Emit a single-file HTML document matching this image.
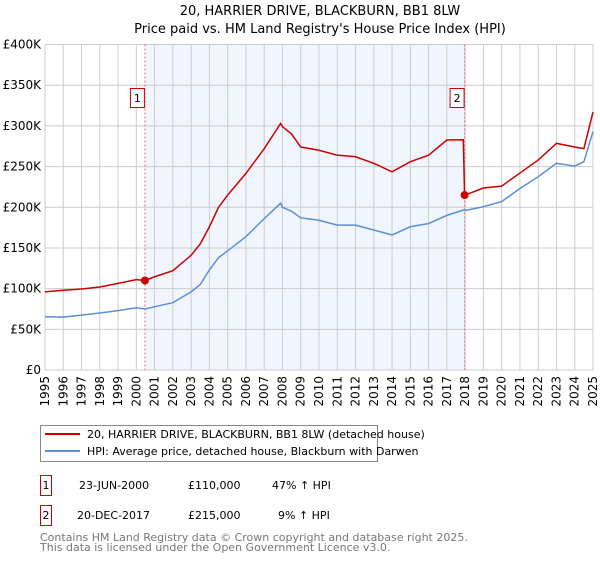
<!DOCTYPE html>
<html><head><meta charset="utf-8"><style>
body{margin:0;background:#fff;font-family:"DejaVu Sans","Liberation Sans",sans-serif;}
svg text{font-family:"DejaVu Sans","Liberation Sans",sans-serif;}
</style></head><body>
<svg id="c" width="600" height="560" xmlns="http://www.w3.org/2000/svg">
<text x="320" y="15" text-anchor="middle" font-size="13">20, HARRIER DRIVE, BLACKBURN, BB1 8LW</text>
<text x="320" y="33" text-anchor="middle" font-size="13">Price paid vs. HM Land Registry's House Price Index (HPI)</text>
<g id="plot"></g>
<g>
<rect x="40.5" y="425.5" width="337" height="36" fill="#fff" stroke="#888"/>
<line x1="45" y1="434" x2="80" y2="434" stroke="#cc0000" stroke-width="2"/>
<text x="87" y="438" font-size="11">20, HARRIER DRIVE, BLACKBURN, BB1 8LW (detached house)</text>
<line x1="45" y1="451" x2="80" y2="451" stroke="#5b8fd4" stroke-width="2"/>
<text x="87" y="455" font-size="11">HPI: Average price, detached house, Blackburn with Darwen</text>
</g>
<g font-size="11">
<rect x="40.5" y="475.5" width="11" height="20" fill="#fff" stroke="#cc0000"/>
<text x="46" y="489" text-anchor="middle">1</text>
<text x="79" y="489">23-JUN-2000</text>
<text x="188" y="489">£110,000</text>
<text x="272" y="489">47% ↑ HPI</text>
<rect x="40.5" y="505.5" width="11" height="20" fill="#fff" stroke="#cc0000"/>
<text x="46" y="519" text-anchor="middle">2</text>
<text x="77" y="519">20-DEC-2017</text>
<text x="188" y="519">£215,000</text>
<text x="278" y="519">9% ↑ HPI</text>
</g>
<text x="40" y="541" font-size="11" fill="#777">Contains HM Land Registry data © Crown copyright and database right 2025.</text>
<text x="40" y="551" font-size="11" fill="#777">This data is licensed under the Open Government Licence v3.0.</text>
</svg>
<script>
const hpiYears=[1995,1996,1997,1998,1999,2000,2000.5,2001,2002,2003,2003.5,2004,2004.5,2005,2006,2007,2007.9,2008,2008.5,2009,2010,2011,2012,2013,2014,2015,2016,2017,2017.97,2018,2019,2020,2021,2022,2023,2024,2024.5,2025];
const hpiValues=[65.5,65,67.5,70,73,76.5,75,77.8,82.7,96,105,123,138,146.5,163.8,186,205,200,195,187,184,178,178,172,166,176,180,190,197,196,200.6,207,223,237.5,254,250.6,256,293];
const priceYears=[1995,1996,1997,1998,1999,2000,2000.47,2001,2002,2003,2003.5,2004,2004.5,2005,2006,2007,2007.9,2008,2008.5,2009,2010,2011,2012,2013,2014,2015,2016,2017,2017.9,2017.97,2018,2019,2020,2021,2022,2023,2024,2024.5,2025];
const priceValues=[96,98,99.5,102,106.5,111,110,114.6,122,141,155,176,200,215,241.6,272,303,299,290,274,270,264,262,254,243.6,256,264,282.6,283,215,215,223.6,226,242,258,278.5,274,272,317];
const yTicks=[0,50,100,150,200,250,300,350,400];
const yTickLabels=["£0","£50K","£100K","£150K","£200K","£250K","£300K","£350K","£400K"];
const xTicks=[1995,1996,1997,1998,1999,2000,2001,2002,2003,2004,2005,2006,2007,2008,2009,2010,2011,2012,2013,2014,2015,2016,2017,2018,2019,2020,2021,2022,2023,2024,2025];
const sales=[{n:"1",t:2000.47,v:110},{n:"2",t:2017.97,v:215}];

const L=45,R=593,T=44.5,B=370;
const xs=t=>L+(t-1995)/30*(R-L);
const ys=v=>B-v/400*(B-T);
const NS="http://www.w3.org/2000/svg";
const g=document.getElementById('plot');
function mk(tag,attrs){const e=document.createElementNS(NS,tag);for(const k in attrs)e.setAttribute(k,attrs[k]);g.appendChild(e);return e;}

let sh=mk('rect',{x:xs(sales[0].t),y:T,width:xs(sales[1].t)-xs(sales[0].t),height:B-T,fill:'#f1f5fd'});


xTicks.forEach(t=>{
  const l=mk('line',{x1:xs(t),y1:T,x2:xs(t),y2:B,stroke:'#ccc','stroke-width':1});
  
  
  const tx=mk('text',{x:0,y:0,'font-size':12,'text-anchor':'end',transform:`translate(${xs(t)+4},${B+6}) rotate(-90)`});
  tx.textContent=t;
  
  
});
yTicks.forEach((v,i)=>{
  const l=mk('line',{x1:L,y1:ys(v),x2:R,y2:ys(v),stroke:'#ccc','stroke-width':1});
  
  
  const tx=mk('text',{x:41,y:ys(v)+4,'font-size':12,'text-anchor':'end'});
  tx.textContent=yTickLabels[i];
  
  
});
const fr=mk('rect',{x:L,y:T,width:R-L,height:B-T,fill:'none',stroke:'#ccc'});


sales.forEach(s=>{
  const l=mk('line',{x1:xs(s.t),y1:T,x2:xs(s.t),y2:B,stroke:'#f26b6b','stroke-dasharray':'2,2'});
  
  
});
const hp=mk('polyline',{points:hpiYears.map((t,i)=>xs(t)+','+ys(hpiValues[i])).join(' '),fill:'none',stroke:'#5b8fd4','stroke-width':1.5});


const pp=mk('polyline',{points:priceYears.map((t,i)=>xs(t)+','+ys(priceValues[i])).join(' '),fill:'none',stroke:'#cc0000','stroke-width':1.5});


sales.forEach(s=>{
  const c=mk('circle',{cx:xs(s.t),cy:ys(s.v),r:4,fill:'#cc0000'});
  
  
  const b=mk('rect',{x:xs(s.t)-14.5,y:88.5,width:14,height:19,fill:'#fff',stroke:'#cc0000'});
  
  
  const tx=mk('text',{x:xs(s.t)-7.5,y:102,'font-size':11,'text-anchor':'middle'});
  tx.textContent=s.n;
  
  
});
</script>
</body></html>
